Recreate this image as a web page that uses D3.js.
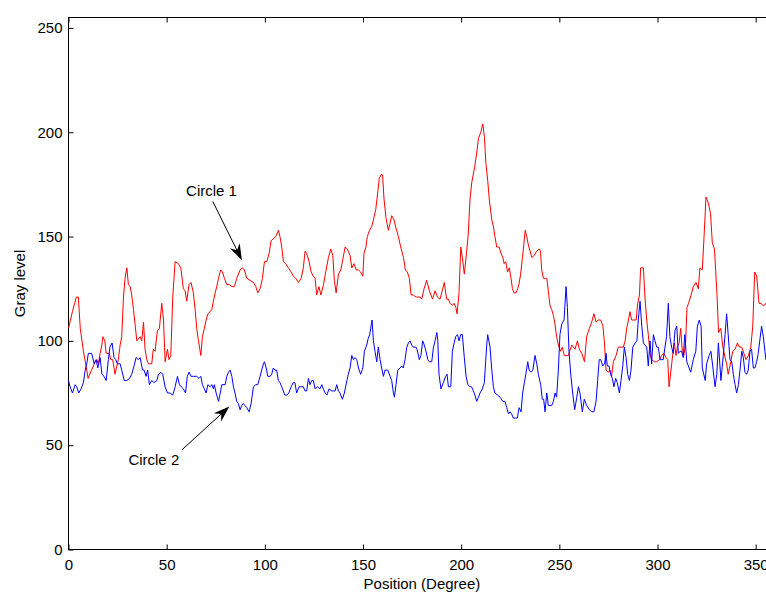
<!DOCTYPE html>
<html>
<head>
<meta charset="utf-8">
<script src="https://cdn.jsdelivr.net/npm/d3@7"></script>
<style>
  body { margin: 0; background: #fff; }
  svg { display: block; overflow: hidden; }
  text { font-family: "Liberation Sans", Arial, Helvetica, sans-serif; }
</style>
</head>
<body>
<div id="chart"></div>
<script>
// [position in degrees, gray level]
var circle1 = [[0,106],[2,114],[4,121],[5,121],[6,106],[7.6,95],[9.3,86],[10,82],[11.7,86],[12.7,88],[13.5,90],[14.4,91],[15.2,89],[16.1,94],[17,98],[17.5,102],[18.5,100],[19.2,94],[20.8,94],[21.5,91],[22.5,91],[23.7,84],[24.6,88],[25.4,91],[26.3,98],[27.1,102],[28,121],[28.8,130],[29.7,135],[30.5,127],[31.4,126],[32.2,122],[33.1,115],[33.9,108],[34.8,100],[35.6,101],[36.5,102],[37.3,100],[38.2,109],[39,96],[39.9,91],[40.7,89],[42.4,89],[43.2,96],[44.1,95],[45.3,105],[46.3,106],[47.5,118],[48.4,110],[49.2,90],[50.4,96],[51.2,91],[52.1,93],[53.1,121],[54.3,138],[56,137],[57.2,135],[58.5,125],[59.4,124],[60.2,119],[61.4,127],[62.4,128],[63.6,123],[64.5,115],[65.3,106],[66.2,100],[67.4,93],[68.2,102],[69.2,106],[70.1,110],[71,113],[72.1,114],[73,115],[73.8,119],[74.7,123],[75.5,126],[76.4,130],[77.5,134],[78.4,133],[79.4,130],[80.6,127],[81.8,127],[83.2,126],[84.5,126],[85.7,130],[87.4,134],[88.6,135],[89.6,134],[90.8,130],[92.5,129],[94.2,128],[95.4,126],[96.4,123],[97.6,125],[98.8,130],[99.8,138],[101,138],[102.2,142],[103.2,148],[104.4,149],[105.6,150],[106.9,153],[107.7,150],[108.6,145],[109.5,138],[110.6,137],[112,135],[113.4,133],[114.5,131],[115.7,130],[117.1,128],[118.5,130],[119.6,135],[120.5,143],[121.3,142],[122.5,138],[123.6,133],[124.7,131],[125.6,130],[126.4,122],[127.6,126],[128.5,122],[129.9,127],[131,133],[132.4,140],[133.6,144],[134.6,141],[135.4,129],[136.3,123],[137.5,132],[138.7,134],[139.7,139],[140.9,145],[142,144],[143.4,141],[144.3,135],[145.4,137],[146.5,134],[147.7,134],[148.8,133],[149.9,131],[150.5,142],[151.5,145],[152.2,150],[153.3,153],[154.5,155],[155.3,158],[156.5,163],[157.6,172],[158.3,178],[159.5,180],[160,179],[160.7,168],[161.7,159],[162.9,153],[163.7,156],[164.6,160],[165.8,158],[166.8,154],[168,150],[169.2,145],[170.6,140],[171.6,134],[172.6,133],[173.6,130],[174.5,122],[175.6,122],[177,121],[179,121],[179.9,120],[181.1,125],[182.4,129],[183.8,124],[185.4,120],[186.7,124],[187.9,121],[189.2,120],[189.8,122],[191.4,128],[192.6,120],[193.5,120],[194.3,118],[195.5,117],[196.4,118],[197.3,116],[197.9,113],[198.9,123],[199.8,145],[200.6,140],[201.6,132],[202.8,143],[203.6,151],[204.5,168],[205.4,176],[206.8,183],[207.9,190],[208.8,197],[210,200],[211,204],[211.8,198],[212.6,185],[213.5,177],[214.4,167],[215.6,158],[216.4,155],[217.2,150],[218.1,145],[219.3,145],[220.3,142],[221.2,140],[221.9,137],[222.7,138],[223.6,133],[224.5,135],[225.4,130],[226.1,125],[226.9,123],[227.9,123],[228.8,125],[229.4,127],[230.3,132],[231.2,140],[231.9,146],[232.6,153],[233.4,150],[234.2,146],[235.1,143],[236,140],[237.3,141],[238.4,143],[239.8,144],[240.4,143],[241,134],[241.9,130],[242.7,130],[243.6,130],[244.4,124],[245.2,117],[246.1,115],[247,112],[247.8,108],[248.6,102],[249.5,98],[250.6,95],[251.5,97],[252.5,93],[254.6,93],[256.3,98],[258,96],[259.2,100],[260.2,96],[261.4,94],[262.8,90],[263.9,102],[265.3,106],[266.5,109],[267.6,113],[268.7,109],[269.8,110],[271.1,110],[272.2,107],[272.9,100],[273.8,86],[275,85],[275.8,86],[276.6,83],[277.5,90],[278.9,93],[280,97],[281.4,97],[282.6,97],[283.5,100],[284.3,106],[285.2,110],[286,114],[286.8,110],[287.7,110],[289.1,110],[289.9,118],[290.8,122],[291.4,135],[292.8,135],[293.6,121],[294.5,110],[295.3,103],[296.2,94],[297,91],[298.5,90],[299.6,90],[301,91],[302.1,93],[303.3,94],[304.3,92],[305.2,91],[305.9,78],[307,87],[307.7,93],[308.6,99],[309.4,93],[310.1,97],[311,99],[311.8,106],[312.6,95],[313.4,93],[314.3,99],[315,116],[315.8,118],[317.1,122],[318.2,126],[319.6,128],[320.8,125],[321.6,135],[322.8,134],[323.7,150],[324.7,169],[325.9,166],[327,161],[327.9,147],[329,144],[330.2,124],[331.1,104],[332.2,106],[333.3,97],[334.4,92],[335.2,89],[336,84],[337.3,90],[338.3,95],[339.5,96],[340.7,99],[341.7,97],[342.9,97],[344,94],[345.1,91],[346.3,93],[347.5,97],[348.5,107],[349.5,133],[350.5,131],[351.7,118],[352.8,118],[353.6,117],[354.4,117],[355.2,118],[356,117],[358,116],[360,117]];

var circle2 = [[0,81],[0.8,78],[2,75],[3.4,79],[4.2,78],[5.2,75],[6.4,77],[7.6,80],[8.5,86],[9.3,89],[10.1,94],[11.8,94],[13.1,89],[14.1,91],[14.9,87],[16.1,92],[17,84],[18.1,83],[19.2,81],[20.3,91],[21.1,97],[22.2,99],[23.2,92],[24.1,91],[24.9,89],[26.3,89],[27.1,86],[28.4,81],[29.7,81],[31.1,82],[32.2,84],[33.4,88],[34.4,92],[35.6,91],[36.5,92],[37.7,86],[38.5,86],[39.5,83],[40.3,86],[41.2,79],[42.4,81],[43.6,80],[45,81],[45.8,84],[47,85],[48,84],[49.2,78],[50.4,75],[51.8,75],[53.1,74],[54.3,78],[55.5,83],[56.5,79],[57.4,78],[58.5,77],[59.6,75],[60.5,83],[61.4,85],[62.4,83],[63.6,83],[65.3,83],[66.5,82],[67.4,83],[68.2,79],[69.2,77],[70.1,75],[71,79],[72.1,78],[73,79],[73.8,77],[74.3,79],[75.2,75],[76.4,71],[77.3,75],[78.1,79],[79.8,79],[80.6,83],[81.5,85],[82.3,86],[83.2,83],[84,78],[84.8,75],[85.7,71],[86.5,70],[87.4,67],[88.2,69],[89,70],[89.9,69],[90.8,68],[92,66],[93,70],[94.2,78],[95.4,79],[96.4,79],[97.6,83],[98.4,86],[99.3,89],[99.8,90],[100.7,87],[101.5,83],[102.7,83],[103.5,84],[104.3,87],[105.2,86],[106,86],[106.9,81],[107.7,80],[108.6,78],[110.2,74],[111.2,74],[112.2,75],[113.4,78],[114.5,80],[115.3,80],[116.2,75],[117.4,78],[118.5,78],[119.6,78],[120.5,76],[121.3,76],[122.2,82],[123,79],[123.9,81],[124.7,81],[125.6,77],[126.8,78],[128.1,77],[129,79],[129.8,77],[130.7,75],[131.6,74],[132.7,77],[134.1,76],[134.9,76],[135.8,76],[136.6,79],[137.5,76],[138.3,75],[139.5,72],[140.5,75],[141.8,81],[142.5,84],[143.4,87],[144.3,93],[145.1,91],[146,92],[146.8,91],[147.7,87],[148.8,84],[149.9,87],[150.7,95],[151.9,98],[152.6,101],[153.4,103],[154.6,110],[155.3,100],[156.1,95],[157,90],[157.8,97],[158.7,91],[159.5,87],[160.4,83],[161.2,86],[162.6,86],[163.8,83],[164.6,81],[165.5,75],[166,73],[166.8,79],[167.7,86],[168.9,87],[169.7,88],[170.5,87],[171.4,91],[172.3,97],[173.1,99],[174,100],[174.8,98],[175.6,97],[177,97],[177.5,96],[178.7,91],[179.5,93],[180.4,100],[181.2,98],[182.1,95],[183,91],[183.8,90],[185,90],[185.9,97],[186.7,100],[187.6,104],[188.1,100],[188.7,84],[189.7,77],[190.9,80],[192.1,83],[192.8,84],[193.5,78],[194.7,78],[195.5,95],[196.4,99],[197.2,102],[198.1,103],[198.9,100],[199.8,103],[200.6,103],[201.6,92],[202.5,83],[203.4,79],[204.5,78],[205.3,78],[206.2,76],[207,74],[207.9,71],[208.8,73],[209.6,75],[210.8,77],[211.8,80],[212.4,89],[213,98],[213.5,103],[214.7,97],[215.6,86],[216.4,78],[217.2,75],[218.6,74],[219.8,73],[221.2,71],[222.3,71],[223.2,68],[224.1,65],[224.9,66],[225.7,65],[226.6,63],[227.6,63],[228.6,63],[229.5,68],[230.5,66],[231.3,75],[232.2,80],[233.1,85],[233.9,90],[234.6,86],[235.6,85],[236.5,86],[237.6,93],[238.5,89],[239.3,84],[240.5,79],[241.3,72],[242,72],[242.7,66],[243.6,75],[244.4,69],[245.2,69],[246.1,69],[247,71],[247.8,75],[248.6,73],[249.5,86],[250.3,103],[251.2,108],[252.4,110],[253.4,126],[254.1,116],[254.9,95],[255.8,84],[256.8,75],[257.8,67],[258.9,73],[259.7,78],[260.5,75],[261.7,66],[262.7,72],[263.9,69],[265.3,67],[266.5,66],[267.6,66],[268.7,71],[269.5,81],[270.3,91],[271.1,91],[272.1,88],[273,89],[273.8,94],[274.4,88],[275.3,88],[276.1,84],[277,82],[277.8,78],[278.7,82],[279.5,80],[280.6,75],[281.4,81],[282.3,88],[283.1,97],[284,92],[284.8,84],[285.7,81],[286.5,86],[287.4,97],[288.6,99],[289.5,100],[290.2,110],[291.1,119],[292,107],[292.8,99],[293.6,98],[294.5,97],[295.3,88],[296.2,100],[297,89],[297.9,103],[298.7,100],[299.6,97],[300.4,97],[301.3,91],[302.1,91],[302.9,91],[303.8,97],[304.6,102],[305.5,118],[306.3,102],[307.2,97],[308,94],[308.9,105],[309.8,107],[310.6,94],[311.5,95],[312.3,95],[313.1,92],[313.9,103],[314.9,90],[315.7,88],[316.9,85],[318.2,91],[319.5,95],[320.3,107],[321.3,110],[322.2,107],[322.8,87],[324.3,81],[325,89],[326.3,93],[327.2,95],[328.1,88],[329.3,78],[330.2,84],[331,99],[331.8,88],[332.3,81],[333.5,93],[334.4,103],[335.2,113],[336,103],[336.9,91],[337.8,90],[338.6,84],[339.5,79],[340.3,75],[341.2,79],[342,86],[342.9,95],[343.7,92],[344.5,85],[345.4,84],[346.2,86],[347.1,95],[347.9,96],[348.8,87],[349.6,87],[350.5,90],[351.3,94],[352.2,101],[353,107],[353.9,102],[354.7,95],[355.2,91],[356,90],[358,92],[360,94]];

var xTicks = [0, 50, 100, 150, 200, 250, 300, 350];
var yTicks = [0, 50, 100, 150, 200, 250];

// text position and arrow tail -> tip, in data units
var notes = [
  {label: "Circle 1", tx: 59.9, ty: 169.5, from: [73.5, 166.8], to: [88.3, 138.7]},
  {label: "Circle 2", tx: 30.5, ty: 40.7, from: [57.7, 47.7], to: [81.9, 68.5]}
];

var width = 766;
var height = 594;
var plotLeft = 68.5, plotTop = 17.5, plotBottom = 549.5;

var x = d3.scaleLinear().domain([0, 360]).range([plotLeft, plotLeft + 360 * 1.9634]);
var y = d3.scaleLinear().domain([0, 255]).range([plotBottom, plotTop]);

var svg = d3.select("#chart")
  .append("svg")
  .attr("width", width)
  .attr("height", height);

// axes, matlab style ticks pointing inward
svg.append("g")
  .attr("transform", "translate(0," + plotBottom + ")")
  .call(d3.axisBottom(x).tickValues(xTicks).tickSizeInner(-5).tickSizeOuter(0).tickPadding(10));

svg.append("g")
  .attr("transform", "translate(0," + plotTop + ")")
  .call(d3.axisTop(x).tickValues(xTicks).tickSizeInner(-5).tickSizeOuter(0).tickFormat(""));

svg.append("g")
  .attr("transform", "translate(" + plotLeft + ",0)")
  .call(d3.axisLeft(y).tickValues(yTicks).tickSizeInner(-5).tickSizeOuter(0).tickPadding(6));

svg.append("g")
  .attr("transform", "translate(" + x(360) + ",0)")
  .call(d3.axisRight(y).tickValues(yTicks).tickSizeInner(-5).tickSizeOuter(0).tickFormat(""));

svg.selectAll(".domain").remove();
svg.selectAll(".tick line").attr("stroke", "#000");
svg.selectAll(".tick text")
  .attr("fill", "#000")
  .style("font-size", "15px");

// frame
svg.append("rect")
  .attr("x", x(0))
  .attr("y", y(255))
  .attr("width", x(360) - x(0))
  .attr("height", y(0) - y(255))
  .attr("fill", "none")
  .attr("stroke", "#000")
  .attr("stroke-width", 1);

var line = d3.line()
  .x(function(d) { return x(d[0]); })
  .y(function(d) { return y(d[1]); });

svg.append("path")
  .datum(circle1)
  .attr("d", line)
  .attr("fill", "none")
  .attr("stroke", "#ff0000")
  .attr("stroke-width", 1);

svg.append("path")
  .datum(circle2)
  .attr("d", line)
  .attr("fill", "none")
  .attr("stroke", "#0000ff")
  .attr("stroke-width", 1);

// axis labels
svg.append("text")
  .attr("x", (x(0) + x(360)) / 2)
  .attr("y", 589)
  .attr("text-anchor", "middle")
  .style("font-size", "15px")
  .text("Position (Degree)");

svg.append("text")
  .attr("transform", "translate(25," + ((plotTop + plotBottom) / 2) + ") rotate(-90)")
  .attr("text-anchor", "middle")
  .style("font-size", "15px")
  .text("Gray level");

// annotations with arrows
notes.forEach(function(n) {
  svg.append("text")
    .attr("x", x(n.tx))
    .attr("y", y(n.ty))
    .style("font-size", "15px")
    .text(n.label);

  var x1 = x(n.from[0]), y1 = y(n.from[1]);
  var x2 = x(n.to[0]), y2 = y(n.to[1]);
  var ang = Math.atan2(y2 - y1, x2 - x1);
  var len = 16, half = 5.5, notch = 11;
  var ux = Math.cos(ang), uy = Math.sin(ang);

  svg.append("line")
    .attr("x1", x1).attr("y1", y1)
    .attr("x2", x2 - ux * notch).attr("y2", y2 - uy * notch)
    .attr("stroke", "#000")
    .attr("stroke-width", 1);

  var pts = [
    [x2, y2],
    [x2 - ux * len - uy * half, y2 - uy * len + ux * half],
    [x2 - ux * notch, y2 - uy * notch],
    [x2 - ux * len + uy * half, y2 - uy * len - ux * half]
  ];
  svg.append("polygon")
    .attr("points", pts.map(function(p) { return p.join(","); }).join(" "))
    .attr("fill", "#000");
});
</script>
</body>
</html>
